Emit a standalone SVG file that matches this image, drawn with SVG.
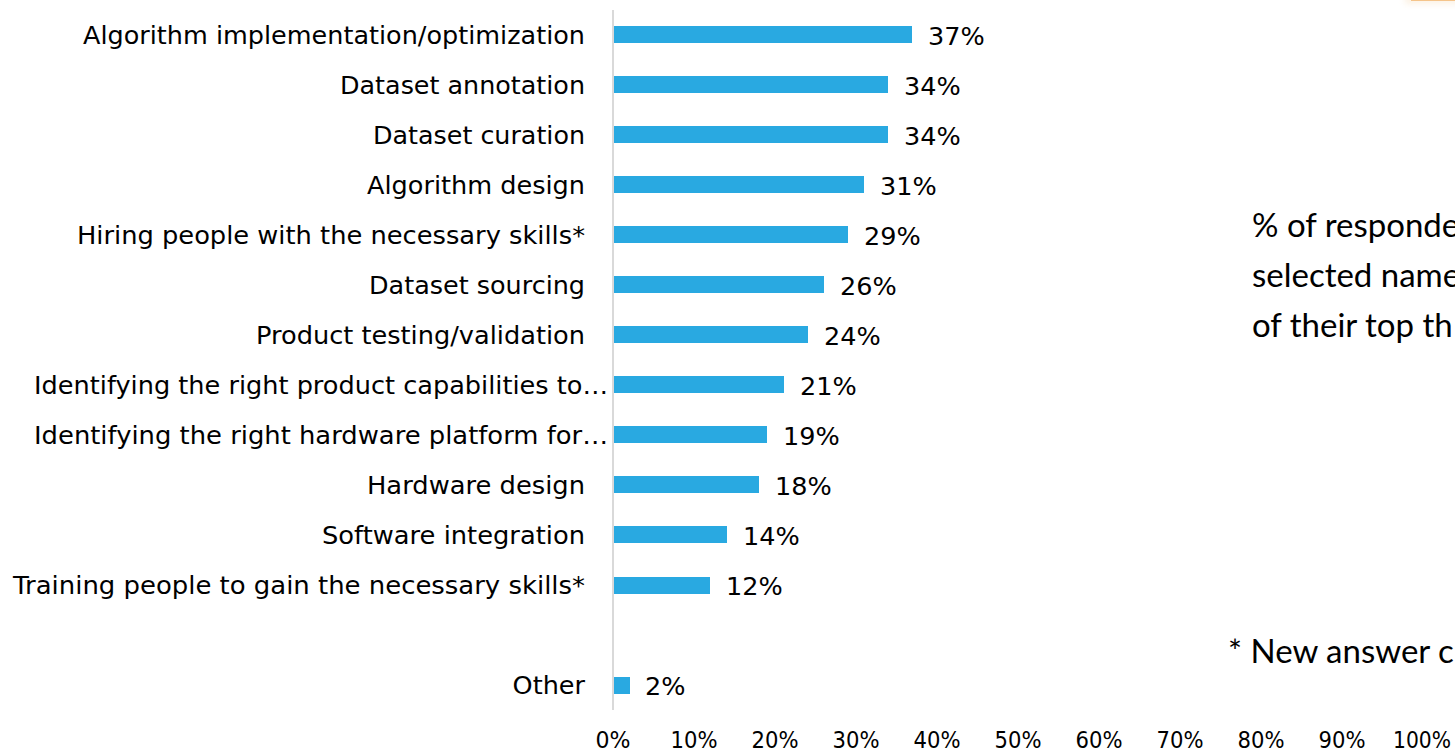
<svg xmlns="http://www.w3.org/2000/svg" width="1455" height="752" viewBox="0 0 1455 752">
<defs>
<style>
.cat{font-family:"DejaVu Sans",Verdana,sans-serif;font-size:25.5px;fill:#000;text-anchor:end}
.val{font-family:"DejaVu Sans",Verdana,sans-serif;font-size:25.5px;fill:#000}
.tick{font-family:"DejaVu Sans",Verdana,sans-serif;font-size:23px;fill:#000;text-anchor:middle}
.bar{fill:#29a9e1}
.note{font-family:Lato,"Open Sans",sans-serif;font-size:33px;fill:#000}
</style>
<filter id="glow" x="-50%" y="-50%" width="200%" height="200%"><feGaussianBlur stdDeviation="3"/></filter>
</defs>
<rect width="1455" height="752" fill="#fff"/>
<g id="corner">
<rect x="1405" y="-8" width="60" height="12" fill="#f6d9b0" opacity="0.35" filter="url(#glow)"/>
<rect x="1411" y="-5" width="44" height="6" fill="#f5c48a"/>
</g>
<g id="axis">
<line x1="613" y1="10" x2="613" y2="710" stroke="#d9d9d9" stroke-width="2"/>
<text class="tick" x="613" y="748" textLength="35" lengthAdjust="spacingAndGlyphs">0%</text>
<text class="tick" x="694" y="748" textLength="47" lengthAdjust="spacingAndGlyphs">10%</text>
<text class="tick" x="775" y="748" textLength="47" lengthAdjust="spacingAndGlyphs">20%</text>
<text class="tick" x="856" y="748" textLength="47" lengthAdjust="spacingAndGlyphs">30%</text>
<text class="tick" x="937" y="748" textLength="47" lengthAdjust="spacingAndGlyphs">40%</text>
<text class="tick" x="1018" y="748" textLength="47" lengthAdjust="spacingAndGlyphs">50%</text>
<text class="tick" x="1099" y="748" textLength="47" lengthAdjust="spacingAndGlyphs">60%</text>
<text class="tick" x="1180" y="748" textLength="47" lengthAdjust="spacingAndGlyphs">70%</text>
<text class="tick" x="1261" y="748" textLength="47" lengthAdjust="spacingAndGlyphs">80%</text>
<text class="tick" x="1342" y="748" textLength="47" lengthAdjust="spacingAndGlyphs">90%</text>
<text class="tick" x="1422" y="748" textLength="58" lengthAdjust="spacingAndGlyphs">100%</text>
</g>
<g id="bar-1"><text class="cat" x="585" y="44" textLength="502" lengthAdjust="spacingAndGlyphs">Algorithm implementation/optimization</text><rect class="bar" x="614" y="26" width="298" height="17"/><text class="val" x="928" y="45">37%</text></g>
<g id="bar-2"><text class="cat" x="585" y="94" textLength="245" lengthAdjust="spacingAndGlyphs">Dataset annotation</text><rect class="bar" x="614" y="76" width="274" height="17"/><text class="val" x="904" y="95">34%</text></g>
<g id="bar-3"><text class="cat" x="585" y="144" textLength="212" lengthAdjust="spacingAndGlyphs">Dataset curation</text><rect class="bar" x="614" y="126" width="274" height="17"/><text class="val" x="904" y="145">34%</text></g>
<g id="bar-4"><text class="cat" x="585" y="194" textLength="218" lengthAdjust="spacingAndGlyphs">Algorithm design</text><rect class="bar" x="614" y="176" width="250" height="17"/><text class="val" x="880" y="195">31%</text></g>
<g id="bar-5"><text class="cat" x="585" y="244" textLength="508" lengthAdjust="spacingAndGlyphs">Hiring people with the necessary skills*</text><rect class="bar" x="614" y="226" width="234" height="17"/><text class="val" x="864" y="245">29%</text></g>
<g id="bar-6"><text class="cat" x="585" y="294" textLength="216" lengthAdjust="spacingAndGlyphs">Dataset sourcing</text><rect class="bar" x="614" y="276" width="210" height="17"/><text class="val" x="840" y="295">26%</text></g>
<g id="bar-7"><text class="cat" x="585" y="344" textLength="329" lengthAdjust="spacingAndGlyphs">Product testing/validation</text><rect class="bar" x="614" y="326" width="194" height="17"/><text class="val" x="824" y="345">24%</text></g>
<g id="bar-8"><text class="cat" x="608" y="394" textLength="574" lengthAdjust="spacingAndGlyphs">Identifying the right product capabilities to…</text><rect class="bar" x="614" y="376" width="170" height="17"/><text class="val" x="800" y="395">21%</text></g>
<g id="bar-9"><text class="cat" x="608" y="444" textLength="574" lengthAdjust="spacingAndGlyphs">Identifying the right hardware platform for…</text><rect class="bar" x="614" y="426" width="153" height="17"/><text class="val" x="783" y="445">19%</text></g>
<g id="bar-10"><text class="cat" x="585" y="494" textLength="218" lengthAdjust="spacingAndGlyphs">Hardware design</text><rect class="bar" x="614" y="476" width="145" height="17"/><text class="val" x="775" y="495">18%</text></g>
<g id="bar-11"><text class="cat" x="585" y="544" textLength="263" lengthAdjust="spacingAndGlyphs">Software integration</text><rect class="bar" x="614" y="526" width="113" height="17"/><text class="val" x="743" y="545">14%</text></g>
<g id="bar-12"><text class="cat" x="585" y="594" textLength="572" lengthAdjust="spacingAndGlyphs">Training people to gain the necessary skills*</text><rect class="bar" x="614" y="577" width="96" height="17"/><text class="val" x="726" y="595">12%</text></g>
<g id="bar-13"><text class="cat" x="585" y="694">Other</text><rect class="bar" x="614" y="677" width="16" height="17"/><text class="val" x="645" y="695">2%</text></g>
<g id="legend-note">
<text class="note" x="1252" y="237">% of responde</text>
<text class="note" x="1252" y="287">selected name</text>
<text class="note" x="1252" y="337">of their top th</text>
</g>
<g id="footnote"><text class="note" x="1228" y="663">* New answer c</text></g>
</svg>
